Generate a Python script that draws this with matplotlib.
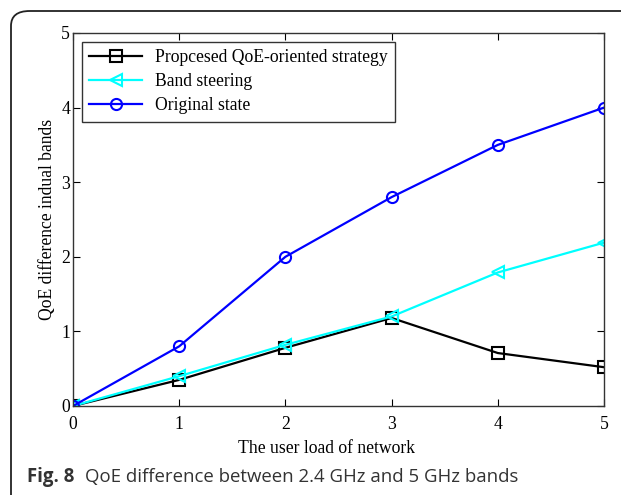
import matplotlib.pyplot as plt
from matplotlib.patches import FancyBboxPatch

# datos
carga = [0, 1, 2, 3, 4, 5]
propuesta = [0, 0.35, 0.78, 1.18, 0.71, 0.52]
band_steering = [0, 0.40, 0.82, 1.20, 1.79, 2.19]
original = [0, 0.80, 2.00, 2.80, 3.50, 4.00]

etiquetas = [
    "Propcesed QoE-oriented strategy",
    "Band steering",
    "Original state",
]

fig = plt.figure(figsize=(6.21, 4.95), dpi=100)

# marco redondeado de la figura
marco = FancyBboxPatch(
    (11 / 621, -0.05), 1.2, 1 - 11 / 495 + 0.05,
    boxstyle="round,pad=0,rounding_size=0.03",
    transform=fig.transFigure, facecolor="none",
    edgecolor="#222222", linewidth=1.3, clip_on=False,
)
fig.patches.append(marco)

ax = fig.add_axes([73 / 621, 1 - 406 / 495, 531 / 621, 373 / 495])

serif = "Liberation Serif"
tam = 12.7
ax.plot(carga, propuesta, color="black", marker="s", fillstyle="none",
        markersize=8, markeredgewidth=1.5, linewidth=1.6, label=etiquetas[0])
ax.plot(carga, band_steering, color="cyan", marker="<", fillstyle="none",
        markersize=9, markeredgewidth=1.5, linewidth=1.6, label=etiquetas[1])
ax.plot(carga, original, color="blue", marker="o", fillstyle="none",
        markersize=8, markeredgewidth=1.5, linewidth=1.6, label=etiquetas[2])

ax.set_xlim(0, 5)
ax.set_ylim(0, 5)
ax.set_xticks(range(6))
ax.set_yticks(range(6))
ax.tick_params(axis="x", direction="in", length=5, top=True,
               labelsize=tam, pad=7)
ax.tick_params(axis="y", direction="in", length=5, right=True,
               labelsize=tam, pad=2)
for lab in ax.get_xticklabels() + ax.get_yticklabels():
    lab.set_fontfamily(serif)
for s in ax.spines.values():
    s.set_color("#333333")
    s.set_linewidth(1.0)

ax.set_xlabel("The user load of network", fontfamily=serif, fontsize=tam,
              labelpad=5)
ax.xaxis.label.set_x(0.477)
ax.set_ylabel("QoE difference indual bands", fontfamily=serif, fontsize=tam,
              labelpad=4)

leg = ax.legend(loc="upper left", bbox_to_anchor=(0.017, 0.976),
                prop={"family": serif, "size": tam}, fancybox=False,
                framealpha=1, edgecolor="#333333", handlelength=3.0,
                borderaxespad=0, labelspacing=0.4, handletextpad=0.7,
                borderpad=0.42)
leg.get_frame().set_linewidth(1.0)

fig.text(27 / 621, 1 - 477 / 495, "Fig. 8", fontfamily="Open Sans",
         fontweight="bold", fontsize=13.4, color="#333333", va="center")
fig.text(85 / 621, 1 - 477 / 495,
         "QoE difference between 2.4 GHz and 5 GHz bands",
         fontfamily="Open Sans", fontsize=13.4, color="#333333", va="center")

fig.savefig("out.png", dpi=100)
